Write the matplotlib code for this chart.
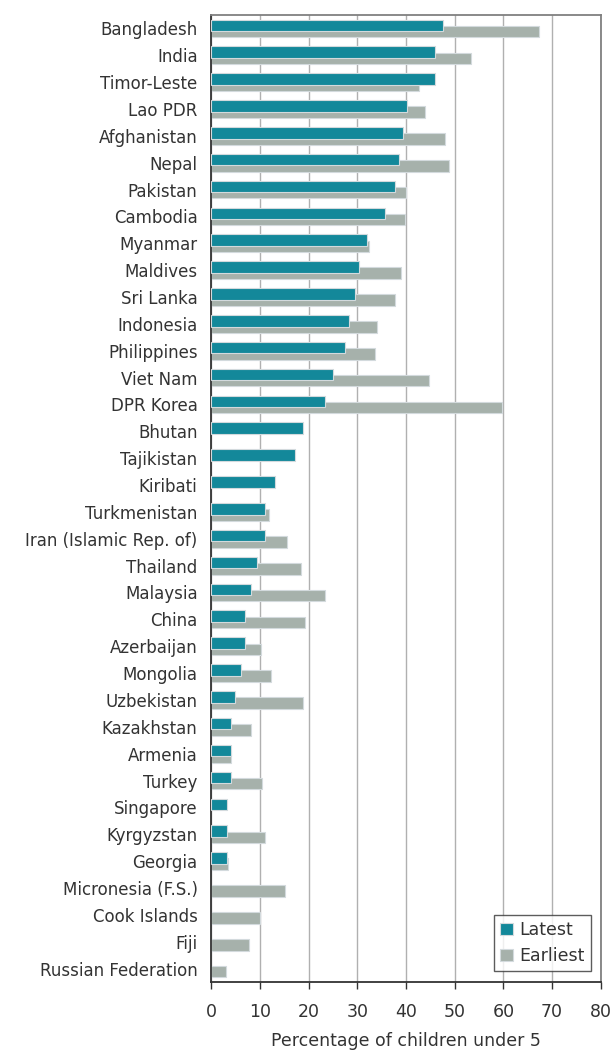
import numpy as np
import matplotlib
matplotlib.use("Agg")
import matplotlib.pyplot as plt

countries = ["Bangladesh", "India", "Timor-Leste", "Lao PDR", "Afghanistan", "Nepal",
             "Pakistan", "Cambodia", "Myanmar", "Maldives", "Sri Lanka", "Indonesia",
             "Philippines", "Viet Nam", "DPR Korea", "Bhutan", "Tajikistan", "Kiribati",
             "Turkmenistan", "Iran (Islamic Rep. of)", "Thailand", "Malaysia", "China",
             "Azerbaijan", "Mongolia", "Uzbekistan", "Kazakhstan", "Armenia", "Turkey",
             "Singapore", "Kyrgyzstan", "Georgia", "Micronesia (F.S.)", "Cook Islands",
             "Fiji", "Russian Federation"]

# latest estimate (0 = no data)
latest = [47.5, 45.9, 45.9, 40.2, 39.3, 38.5, 37.7, 35.6, 31.9, 30.4, 29.5, 28.3,
          27.5, 25.0, 23.4, 18.8, 17.2, 13.1, 11.0, 11.0, 9.4, 8.2, 6.9,
          6.9, 6.1, 4.9, 4.0, 4.0, 4.0, 3.2, 3.2, 3.2, 0, 0, 0, 0]

# earliest estimate (0 = no data)
earliest = [67.3, 53.4, 42.7, 43.9, 48.0, 48.9, 40.0, 39.8, 32.4, 39.0, 37.8, 34.1,
            33.7, 44.8, 59.8, 0, 0, 0, 11.9, 15.6, 18.4, 23.4, 19.3,
            10.2, 12.3, 18.8, 8.1, 4.0, 10.3, 0, 11.1, 3.3, 15.2, 9.9, 7.8, 2.9]

teal = "#13889a"
grey = "#a6b1ab"
edge = "#d3dadd"
text_col = "#333333"

fig = plt.figure(figsize=(6.13, 10.5), dpi=100)
ax = fig.add_axes([0.345, 0.0648, 0.635, 0.9209])

y = np.arange(len(countries))
lat = np.array(latest, dtype=float)
ear = np.array(earliest, dtype=float)

h = 0.43
ax.barh(y + 0.115, np.where(ear > 0, ear, np.nan), height=h, color=grey,
        edgecolor=edge, linewidth=0.8, label="Earliest", zorder=2)
ax.barh(y - 0.115, np.where(lat > 0, lat, np.nan), height=h, color=teal,
        edgecolor=edge, linewidth=0.8, label="Latest", zorder=3)

ax.set_xlim(0, 80)
ax.set_ylim(len(countries) - 0.5, -0.5)
ax.set_xticks(range(0, 81, 10))
ax.set_yticks(y)
ax.set_yticklabels(countries, fontsize=12, color=text_col)
ax.tick_params(axis="y", length=0, pad=10)
ax.tick_params(axis="x", length=5, width=1, color="#333333", labelsize=12.5,
               labelcolor=text_col, pad=10)

ax.xaxis.grid(True, color="#b0b0b0", linewidth=1)
ax.set_axisbelow(True)

ax.spines["left"].set_color("#333333")
ax.spines["bottom"].set_color("#333333")
ax.spines["top"].set_color("#808080")
ax.spines["right"].set_color("#808080")
for s in ax.spines.values():
    s.set_linewidth(1.3)

ax.set_xlabel("Percentage of children under 5", fontsize=12.5, color=text_col, labelpad=8)

handles, labels = ax.get_legend_handles_labels()
leg = ax.legend(handles[::-1], labels[::-1], loc="lower right", bbox_to_anchor=(0.975, 0.011),
                borderaxespad=0, fontsize=12.5, frameon=True, fancybox=False,
                edgecolor="#333333", handlelength=0.7, handleheight=0.7,
                handletextpad=0.4, borderpad=0.35, labelspacing=0.45)
leg.get_frame().set_linewidth(1)
for t in leg.get_texts():
    t.set_color(text_col)

fig.savefig("out.png", dpi=100)
